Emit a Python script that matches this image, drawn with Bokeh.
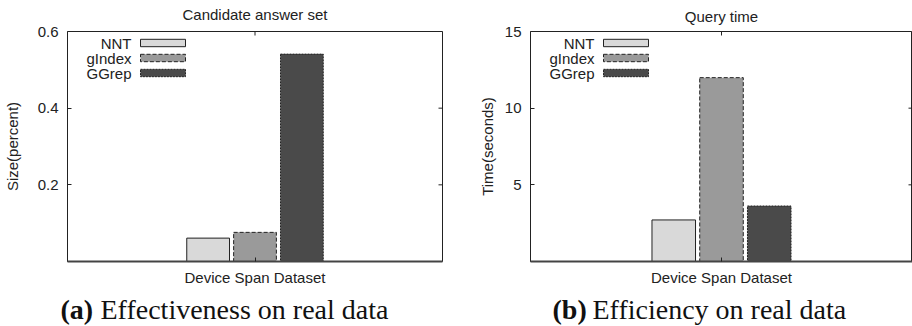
import math
from bokeh.plotting import figure
from bokeh.models import FixedTicker, LinearAxis, Label, BoxAnnotation, Range1d
from bokeh.layouts import row, column
from bokeh.embed import file_html
from bokeh.resources import INLINE

# ---- data ----
categories = ["", "Device Span Dataset"]
series = ["NNT", "gIndex", "GGrep"]
size_nnt = [0.0, 0.061]
size_gindex = [0.0, 0.076]
size_ggrep = [0.0, 0.541]
time_nnt = [0.0, 2.71]
time_gindex = [0.0, 11.99]
time_ggrep = [0.0, 3.62]
size_ticks = [0.2, 0.4, 0.6]
time_ticks = [5, 10, 15]
titles = ["Candidate answer set", "Query time"]
ylabels = ["Size(percent)", "Time(seconds)"]

# ---- styles ----
FILL = {"NNT": "#d9d9d9", "gIndex": "#9a9a9a", "GGrep": "#4a4a4a"}
DASH = {"NNT": "solid", "gIndex": "4 2", "GGrep": "2 1"}
OFFSET = {"NNT": -0.25, "gIndex": 0.0, "GGrep": 0.25}
BAR_W = 0.228
SANS = "Liberation Sans"
SERIF = "Liberation Serif"
INK = "#222222"
FRAME_H = 230
FRAME_TOP = 31
CAP_H = 34
PANEL_H = 326 - CAP_H
XMIN, XMAX = -1, 1


def panel(title, ylabel, values, ticks, ymax, left, right, label_standoff, title_standoff):
    bottom = PANEL_H - FRAME_TOP - FRAME_H
    p = figure(width=456, height=PANEL_H, output_backend="svg", toolbar_location=None,
               title=None,
               x_range=Range1d(XMIN, XMAX), y_range=Range1d(0, ymax),
               min_border_left=left, min_border_right=right,
               min_border_top=FRAME_TOP, min_border_bottom=bottom,
               x_axis_type=None, y_axis_type=None,
               background_fill_color="white", border_fill_color="white",
               outline_line_color=INK, outline_line_width=1)
    p.xgrid.visible = False
    p.ygrid.visible = False

    for s in series:
        xs = [i - 1 + OFFSET[s] for i in range(len(categories))]
        p.vbar(x=xs, top=values[s], bottom=0, width=BAR_W,
               fill_color=FILL[s], line_color=INK, line_width=1, line_dash=DASH[s])

    def axis(ticker):
        a = LinearAxis(ticker=FixedTicker(ticks=ticker))
        a.major_tick_in = 4
        a.major_tick_out = 0
        a.minor_tick_line_color = None
        a.major_tick_line_color = INK
        a.axis_line_color = None
        a.major_label_text_font = SANS
        a.major_label_text_font_size = "15px"
        a.major_label_text_color = INK
        a.major_label_standoff = 9
        a.axis_label_text_font = SANS
        a.axis_label_text_font_size = "15px"
        a.axis_label_text_font_style = "normal"
        a.axis_label_text_color = INK
        return a

    ly = axis(ticks)
    ly.axis_label = ylabel
    ly.axis_label_standoff = label_standoff
    p.add_layout(ly, "left")

    bx = axis([0])
    bx.major_label_overrides = {0: categories[1]}
    bx.major_label_standoff = 7
    bx.axis_line_color = "#444444"
    bx.axis_line_width = 2
    p.add_layout(bx, "below")

    # title drawn as the label of a tick-less axis above the frame
    tx = axis([])
    tx.major_label_standoff = 0
    tx.axis_label = title
    tx.axis_label_standoff = title_standoff
    p.add_layout(tx, "above")

    # mirrored inward ticks on the right and top borders (gnuplot style)
    p.scatter(x=[XMAX] * len(ticks), y=ticks, marker="dash", size=8, line_color=INK, line_width=1)
    p.scatter(x=[0], y=[ymax], marker="dash", angle=math.pi / 2, size=8, line_color=INK, line_width=1)

    # legend in gnuplot style: text on the left, swatch on the right (frame-relative px)
    for j, s in enumerate(series):
        yc = FRAME_H - (11.5 + 15 * j)
        p.add_layout(Label(x=64, y=yc, x_units="screen", y_units="screen", text=s,
                           text_align="right", text_baseline="middle",
                           text_font=SANS, text_font_size="15px", text_color=INK))
        p.add_layout(BoxAnnotation(left=73, right=118, top=yc + 3.7, bottom=yc - 3.7,
                                   left_units="screen", right_units="screen",
                                   top_units="screen", bottom_units="screen",
                                   fill_color=FILL[s], fill_alpha=1, line_color=INK,
                                   line_alpha=1, line_width=1, line_dash=DASH[s]))
    return p


p1 = panel(titles[0], ylabels[0], {"NNT": size_nnt, "gIndex": size_gindex, "GGrep": size_ggrep},
           size_ticks, 0.6, 65, 14, 14, 9)
p2 = panel(titles[1], ylabels[1], {"NNT": time_nnt, "gIndex": time_gindex, "GGrep": time_ggrep},
           time_ticks, 15, 74, 0, 6, 7)

# captions strip under the two panels
cap = figure(width=912, height=CAP_H, output_backend="svg", toolbar_location=None,
             x_range=Range1d(0, 912), y_range=Range1d(0, CAP_H),
             min_border_left=0, min_border_right=0, min_border_top=0, min_border_bottom=0,
             x_axis_type=None, y_axis_type=None, outline_line_color=None,
             background_fill_color="white", border_fill_color="white")
cap.grid.visible = False
captions = [("(a)", "Effectiveness on real data", 60, 100),
            ("(b)", "Efficiency on real data", 552, 592)]
for letter, text, lx, tx in captions:
    cap.add_layout(Label(x=lx, y=CAP_H - 17, x_units="screen", y_units="screen",
                         text=letter, text_align="left", text_baseline="middle",
                         text_font=SERIF, text_font_size="28px", text_font_style="bold",
                         text_color="#111111"))
    cap.add_layout(Label(x=tx, y=CAP_H - 17, x_units="screen", y_units="screen",
                         text=text, text_align="left", text_baseline="middle",
                         text_font=SERIF, text_font_size="28px", text_font_style="normal",
                         text_color="#111111"))

layout = column(row(p1, p2), cap)
open("out.html", "w").write(file_html(layout, INLINE))
